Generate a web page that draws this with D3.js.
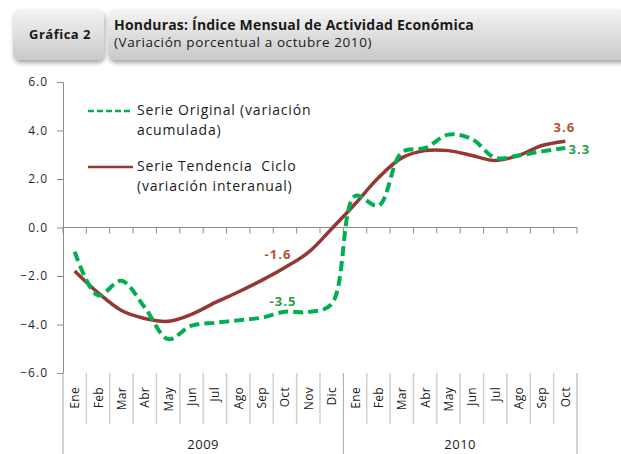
<!DOCTYPE html>
<html>
<head>
<meta charset="utf-8">
<script src="https://cdn.jsdelivr.net/npm/d3@7"></script>
<style>
  body { margin: 0; background: #fff; }
  text { font-family: "Open Sans", sans-serif; }
</style>
</head>
<body>
<div id="chart"></div>
<script>
var months = ["Ene","Feb","Mar","Abr","May","Jun","Jul","Ago","Sep","Oct","Nov","Dic",
              "Ene","Feb","Mar","Abr","May","Jun","Jul","Ago","Sep","Oct"];
var years = ["2009", "2010"];
var yearCounts = [12, 10];
var original = [-1.0,-2.8,-2.2,-3.3,-4.6,-4.05,-3.93,-3.83,-3.72,-3.47,-3.49,-3.15,
                1.3,0.9,3.1,3.28,3.83,3.65,2.87,2.97,3.14,3.28];
var tendencia = [-1.79,-2.69,-3.42,-3.75,-3.87,-3.58,-3.1,-2.66,-2.18,-1.65,-1.03,-0.05,
                 0.97,2.05,2.87,3.17,3.17,2.97,2.76,2.97,3.38,3.56];
var yTicks = [6, 4, 2, 0, -2, -4, -6];

var width = 621, height = 454;
var margin = {top: 82, left: 63, right: 44, bottom: 81};

var svg = d3.select("#chart").append("svg")
    .attr("width", width)
    .attr("height", height);

var defs = svg.append("defs");
var grad = defs.append("linearGradient").attr("id", "hdr").attr("x1", 0).attr("y1", 0).attr("x2", 0).attr("y2", 1);
grad.append("stop").attr("offset", "0%").attr("stop-color", "#f4f4f4");
grad.append("stop").attr("offset", "100%").attr("stop-color", "#c9c9c9");
var shadow = defs.append("filter").attr("id", "sh").attr("x", "-10%").attr("y", "-10%").attr("width", "130%").attr("height", "150%");
shadow.append("feDropShadow").attr("dx", 1).attr("dy", 3).attr("stdDeviation", 2).attr("flood-color", "#000").attr("flood-opacity", 0.35);

// header boxes
svg.append("rect").attr("x", 13).attr("y", 9).attr("width", 91).attr("height", 51)
    .attr("rx", 7).attr("fill", "url(#hdr)").attr("filter", "url(#sh)");
svg.append("rect").attr("x", 108).attr("y", 9).attr("width", 530).attr("height", 51)
    .attr("rx", 7).attr("fill", "url(#hdr)").attr("filter", "url(#sh)");

svg.append("text").attr("x", 60).attr("y", 39).attr("text-anchor", "middle")
    .style("font-size", "13px").style("font-weight", "bold").style("letter-spacing", "0.5px")
    .attr("fill", "#1a1a1a").text("Gráfica 2");
svg.append("text").attr("x", 114).attr("y", 30)
    .style("font-size", "14px").style("font-weight", "bold").style("letter-spacing", "0.2px")
    .attr("fill", "#1a1a1a").text("Honduras: Índice Mensual de Actividad Económica");
svg.append("text").attr("x", 114).attr("y", 47)
    .style("font-size", "13.5px").style("letter-spacing", "0.6px").attr("fill", "#1a1a1a")
    .text("(Variación porcentual a octubre 2010)");

var x = d3.scaleBand().domain(d3.range(months.length))
    .range([margin.left, 577]);
var y = d3.scaleLinear().domain([-6, 6]).range([373, 82]);

function cx(i) { return x(i) + x.bandwidth() / 2; }

// y axis
var yAxis = svg.append("g")
    .attr("transform", "translate(" + margin.left + ",0)")
    .call(d3.axisLeft(y).tickValues(yTicks).tickSize(6).tickPadding(9)
          .tickFormat(d3.format(".1f")));
yAxis.select(".domain").attr("stroke", "#8c8c8c");
yAxis.selectAll(".tick line").attr("stroke", "#8c8c8c");
yAxis.selectAll(".tick text").style("font-size", "12px").style("letter-spacing", "1px")
    .style("font-family", "'Open Sans', sans-serif").attr("fill", "#1f1f33");

// zero line with tick marks
svg.append("line").attr("x1", margin.left).attr("x2", 577)
    .attr("y1", y(0)).attr("y2", y(0)).attr("stroke", "#8c8c8c");
svg.selectAll(".zt").data(d3.range(months.length + 1)).enter().append("line")
    .attr("x1", function(i) { return margin.left + i * x.bandwidth(); })
    .attr("x2", function(i) { return margin.left + i * x.bandwidth(); })
    .attr("y1", y(0)).attr("y2", y(0) + 6).attr("stroke", "#8c8c8c");

// category separators below plot
var yearBounds = [0, 12, 22];
svg.selectAll(".sep").data(d3.range(months.length + 1)).enter().append("line")
    .attr("x1", function(i) { return margin.left + i * x.bandwidth(); })
    .attr("x2", function(i) { return margin.left + i * x.bandwidth(); })
    .attr("y1", 373)
    .attr("y2", function(i) { return yearBounds.indexOf(i) >= 0 ? 454 : 424; })
    .attr("stroke", function(i) { return yearBounds.indexOf(i) >= 0 ? "#a6a6a6" : "#cfcfcf"; })
    .attr("stroke-width", function(i) { return yearBounds.indexOf(i) >= 0 ? 1 : 1.5; });

svg.selectAll(".mlab").data(months).enter().append("text")
    .attr("transform", function(d, i) { return "translate(" + (cx(i) + 4.5) + ",387) rotate(-90)"; })
    .attr("text-anchor", "end")
    .style("font-size", "12px").style("letter-spacing", "0.3px").attr("fill", "#1a1a1a")
    .text(function(d) { return d; });

var start = 0;
years.forEach(function(yr, k) {
  var mid = margin.left + (start + yearCounts[k] / 2) * x.bandwidth();
  svg.append("text").attr("x", mid).attr("y", 449).attr("text-anchor", "middle")
      .style("font-size", "13px").style("letter-spacing", "0.5px").attr("fill", "#1a1a1a").text(yr);
  start += yearCounts[k];
});

// series
var line = d3.line()
    .x(function(d, i) { return cx(i); })
    .y(function(d) { return y(d); })
    .curve(d3.curveCatmullRom.alpha(0.5));

svg.append("path").datum(tendencia).attr("d", line)
    .attr("fill", "none").attr("stroke", "#953735").attr("stroke-width", 3.5);
svg.append("path").datum(original).attr("d", line)
    .attr("fill", "none").attr("stroke", "#00b050").attr("stroke-width", 4)
    .attr("stroke-dasharray", "10,5");

// data labels
var last = months.length - 1;
function dataLabel(txt, px, py, color) {
  svg.append("text").attr("x", px).attr("y", py)
      .attr("text-anchor", "middle").style("font-size", "13px").style("font-weight", "bold")
      .style("letter-spacing", "1px").attr("fill", color).text(txt);
}
dataLabel("-1.6", cx(9) - 7, y(tendencia[9]) - 9, "#b0532b");
dataLabel("-3.5", cx(9) - 2, y(original[9]) - 6, "#1fa046");
dataLabel("3.6", cx(last) - 1, y(tendencia[last]) - 9, "#b0532b");
dataLabel("3.3", cx(last) + 14, y(original[last]) + 6, "#1fa046");

// legend
var legend = svg.append("g");
legend.append("line").attr("x1", 88).attr("x2", 133).attr("y1", 111).attr("y2", 111)
    .attr("stroke", "#00b050").attr("stroke-width", 2.5).attr("stroke-dasharray", "6,3");
legend.append("line").attr("x1", 88).attr("x2", 133).attr("y1", 167).attr("y2", 167)
    .attr("stroke", "#953735").attr("stroke-width", 2.5);
var legendText = [["Serie Original (variación", 115], ["acumulada)", 135],
                  ["Serie Tendencia  Ciclo", 171], ["(variación interanual)", 191]];
legend.selectAll("text").data(legendText).enter().append("text")
    .attr("x", 137).attr("y", function(d) { return d[1]; })
    .style("font-size", "14px").style("letter-spacing", "0.8px").style("white-space", "pre")
    .attr("fill", "#1a1a1a")
    .text(function(d) { return d[0]; });
</script>
</body>
</html>
